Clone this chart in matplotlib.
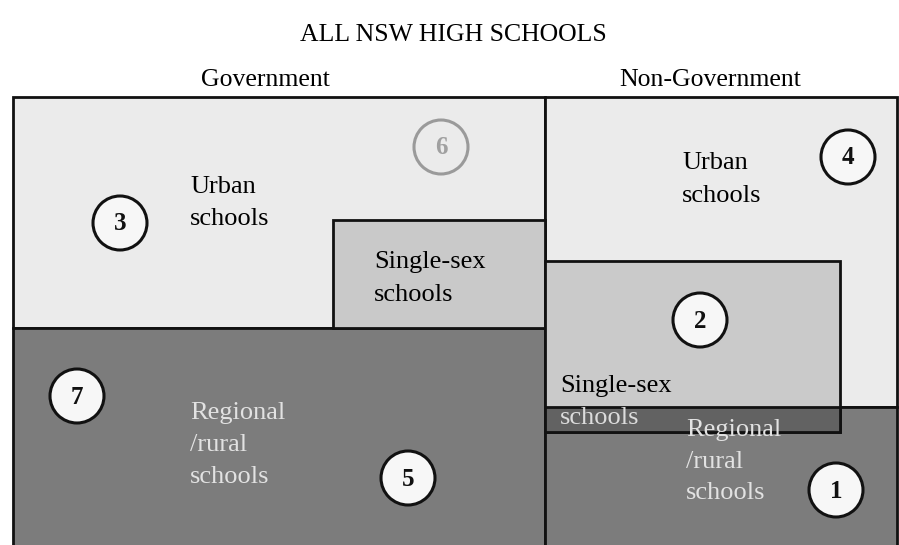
import matplotlib.pyplot as plt
from matplotlib.patches import Rectangle, Circle

# sectors and sub-groups (box bounds in picture pixels: x0, y0, x1, y1)
sector_names = ["Government", "Non-Government"]
box_names = ["gov_urban", "gov_rural", "gov_single", "ng_urban", "ng_rural", "ng_single"]
box_x0 = [13, 13, 333, 545, 545, 545]
box_y0 = [97, 328, 220, 97, 407, 261]
box_x1 = [545, 545, 545, 897, 897, 840]
box_y1 = [328, 560, 328, 407, 560, 432]
box_colors = ["#ebebeb", "#7c7c7c", "#c9c9c9", "#ebebeb", "#7c7c7c", "#cacaca"]

# numbered markers
marker_labels = ["1", "2", "3", "4", "5", "6", "7"]
marker_x = [836, 700, 120, 848, 408, 441, 77]
marker_y = [490, 320, 223, 157, 478, 147, 396]

fig = plt.figure(figsize=(8.99, 5.45), dpi=100)
ax = fig.add_axes([0, 0, 1, 1])
ax.set_xlim(0, 899)
ax.set_ylim(545, 0)
ax.axis("off")

serif = "Liberation Serif"

for name, x0, y0, x1, y1, c in zip(box_names, box_x0, box_y0, box_x1, box_y1, box_colors):
    ax.add_patch(Rectangle((x0, y0), x1 - x0, y1 - y0, facecolor=c,
                           edgecolor="#111111", lw=2, zorder=2 if "single" not in name else 3))

# darker overlap where the non-gov single-sex box runs into the rural part
ax.add_patch(Rectangle((545, 407), 840 - 545, 432 - 407, facecolor="#626262",
                       edgecolor="#111111", lw=2, zorder=4))

for lab, x, y in zip(marker_labels, marker_x, marker_y):
    if lab == "6":
        ec, fc, tc = "#9a9a9a", "#ebebeb", "#a0a0a0"
    else:
        ec, fc, tc = "#111111", "#f7f7f7", "#111111"
    ax.add_patch(Circle((x, y), 27, facecolor=fc, edgecolor=ec, lw=2.2, zorder=6))
    ax.text(x, y + 1, lab, ha="center", va="center", fontsize=18, fontweight="bold",
            family=serif, color=tc, zorder=7)

# titles
ax.text(453, 35, "ALL NSW HIGH SCHOOLS", ha="center", va="center", fontsize=18.5, family=serif)
ax.text(265, 80, sector_names[0], ha="center", va="center", fontsize=18.5, family=serif)
ax.text(710, 80, sector_names[1], ha="center", va="center", fontsize=18.5, family=serif)

# region labels
fs = 19
ax.text(190, 187, "Urban", fontsize=fs, family=serif, va="center", zorder=5)
ax.text(190, 219, "schools", fontsize=fs, family=serif, va="center", zorder=5)
ax.text(374, 262, "Single-sex", fontsize=fs, family=serif, va="center", zorder=5)
ax.text(374, 295, "schools", fontsize=fs, family=serif, va="center", zorder=5)
ax.text(682, 163, "Urban", fontsize=fs, family=serif, va="center", zorder=5)
ax.text(682, 196, "schools", fontsize=fs, family=serif, va="center", zorder=5)
ax.text(560, 386, "Single-sex", fontsize=fs, family=serif, va="center", zorder=5)
ax.text(560, 418, "schools", fontsize=fs, family=serif, va="center", color="#dcdcdc", zorder=5)

for x, ys in [(190, [413, 445, 477]), (686, [430, 462, 493])]:
    for line, y in zip(["Regional", "/rural", "schools"], ys):
        ax.text(x, y, line, fontsize=fs, family=serif, va="center", color="#e2e2e2", zorder=5)

fig.savefig("out.png", dpi=100, facecolor="white")
